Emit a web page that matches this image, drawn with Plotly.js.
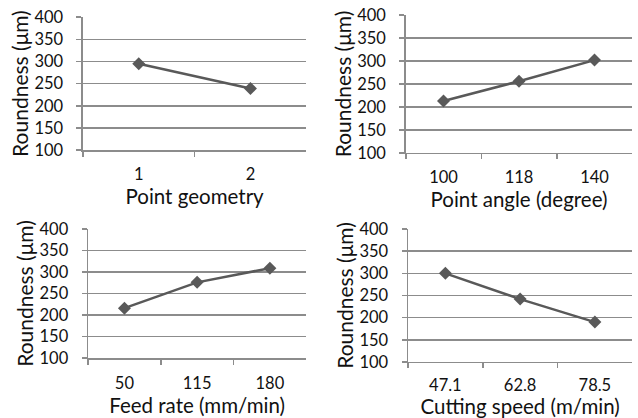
<!DOCTYPE html>
<html>
<head>
<meta charset="utf-8">
<script src="https://cdn.plot.ly/plotly-3.0.1.min.js"></script>
<style>html,body{margin:0;padding:0;background:#fff}#chart{width:638px;height:418px}</style>
</head>
<body>
<div id="chart"></div>
<script>
const yTitle = 'Roundness (μm)';
const cats1 = ['1', '2'];
const vals1 = [295, 239];
const title1 = 'Point geometry';
const cats2 = ['100', '118', '140'];
const vals2 = [213, 256, 302];
const title2 = 'Point angle (degree)';
const cats3 = ['50', '115', '180'];
const vals3 = [216, 276, 309];
const title3 = 'Feed rate (mm/min)';
const cats4 = ['47.1', '62.8', '78.5'];
const vals4 = [300, 242, 190];
const title4 = 'Cutting speed (m/min)';

const lineColor = '#595959';
const gridColor = '#8c8c8c';
const fontFam = 'Lato, "Open Sans", sans-serif';

function trace(x, y, n) {
  return {
    x: x, y: y, type: 'scatter', mode: 'lines+markers',
    xaxis: 'x' + (n === 1 ? '' : n), yaxis: 'y' + (n === 1 ? '' : n),
    line: {color: lineColor, width: 2.5},
    marker: {symbol: 'diamond', size: 10, color: lineColor},
    showlegend: false, hoverinfo: 'x+y'
  };
}
function xa(dom, anchor, cats, title, standoff, labelOff) {
  return {
    domain: dom, anchor: anchor, type: 'category',
    range: [-0.5, cats.length - 0.5],
    showgrid: false, zeroline: false,
    showline: true, linecolor: gridColor, linewidth: 1.5,
    ticks: 'outside', tickson: 'boundaries', ticklen: 5, tickcolor: gridColor, tickwidth: 1.5,
    ticklabelstandoff: labelOff,
    tickfont: {family: fontFam, size: 16.5, color: '#111'},
    title: {text: title, font: {family: fontFam, size: 20.5, color: '#111'}, standoff: standoff},
    automargin: false, fixedrange: true
  };
}
function ya(dom, anchor) {
  return {
    domain: dom, anchor: anchor, range: [100, 400], dtick: 50,
    showgrid: true, gridcolor: gridColor, gridwidth: 1.5, zeroline: false,
    showline: true, linecolor: gridColor, linewidth: 1.5,
    ticks: 'outside', ticklen: 5, tickcolor: gridColor, tickwidth: 1.5,
    ticklabelstandoff: 10,
    tickfont: {family: fontFam, size: 16.5, color: '#111'},
    title: {text: yTitle, font: {family: fontFam, size: 21, color: '#111'}, standoff: 0},
    automargin: false, fixedrange: true
  };
}

const data = [trace(cats1, vals1, 1), trace(cats2, vals2, 2), trace(cats3, vals3, 3), trace(cats4, vals4, 4)];
const layout = {
  width: 638, height: 418,
  margin: {l: 0, r: 0, t: 0, b: 0},
  paper_bgcolor: '#fff', plot_bgcolor: '#fff',
  font: {family: fontFam, color: '#111'},
  xaxis: xa([0.130, 0.480], 'y', cats1, title1, 4, 9),
  yaxis: ya([0.641, 0.959], 'x'),
  xaxis2: xa([0.636, 0.991], 'y2', cats2, title2, 4, 9),
  yaxis2: ya([0.634, 0.964], 'x2'),
  xaxis3: xa([0.138, 0.480], 'y3', cats3, title3, 5, 10),
  yaxis3: ya([0.1435, 0.452], 'x3'),
  xaxis4: xa([0.6395, 0.991], 'y4', cats4, title4, 5, 8),
  yaxis4: ya([0.134, 0.452], 'x4')
};
Plotly.newPlot('chart', data, layout, {displayModeBar: false, staticPlot: true});
</script>
</body>
</html>
